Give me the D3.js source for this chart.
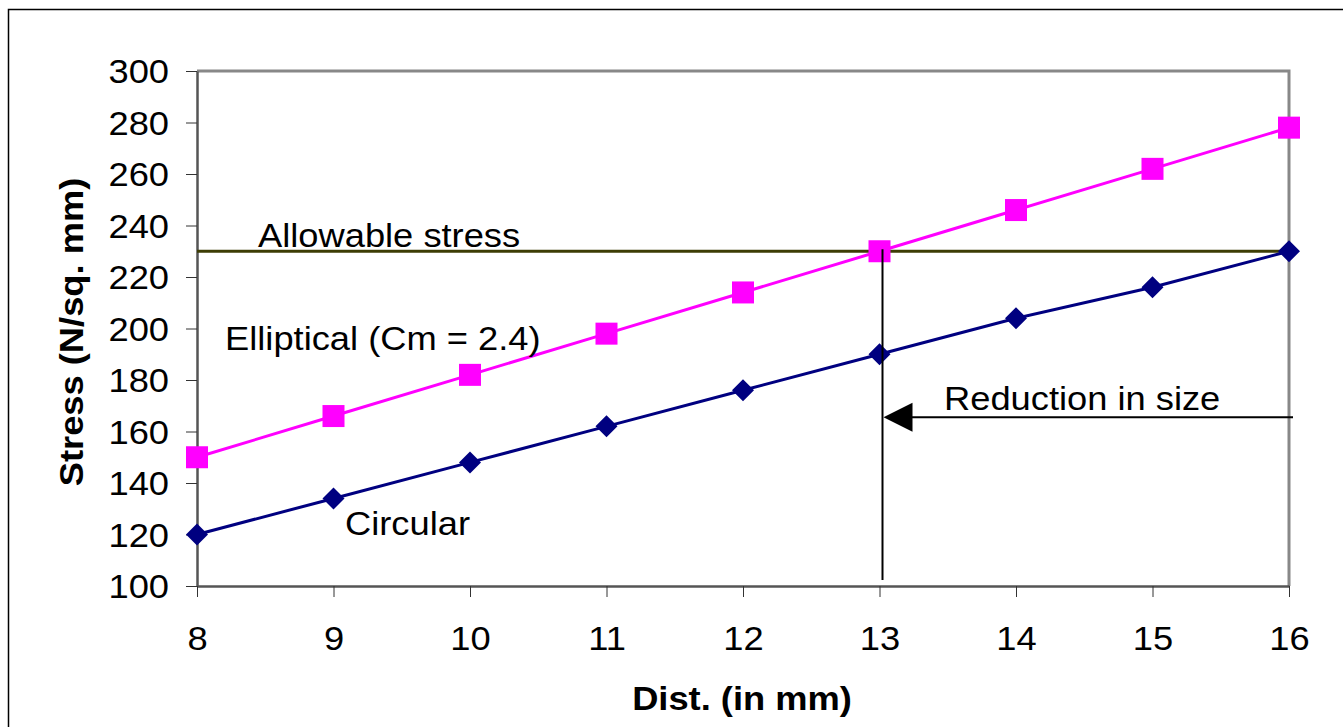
<!DOCTYPE html>
<html>
<head>
<meta charset="utf-8">
<script src="https://cdn.jsdelivr.net/npm/d3@7"></script>
<style>
  html, body { margin: 0; padding: 0; background: #fff; }
  svg { display: block; }
  text { font-family: "Liberation Sans", Arial, sans-serif; fill: #000; }
</style>
</head>
<body>
<svg id="chart" width="1343" height="727"></svg>
<script>
// ---- data ----
const distances = [8, 9, 10, 11, 12, 13, 14, 15, 16];
const circular = [120, 134, 148, 162, 176, 190, 204, 216, 230];
const elliptical = [150, 166, 182, 198, 214, 230, 246, 262, 278];
const allowableStress = 230;
const yTicks = [100, 120, 140, 160, 180, 200, 220, 240, 260, 280, 300];
const xTicks = [8, 9, 10, 11, 12, 13, 14, 15, 16];
const reductionAt = 13;
const arrowLevel = 165.5;

(function () {
// ---- layout ----
const svg = d3.select("#chart");
const pL = 197, pR = 1289, pT = 71, pB = 586;
const FS = 33, SX = 1.1;

const x = d3.scaleLinear().domain([8, 16]).range([pL, pR]);
const y = d3.scaleLinear().domain([100, 300]).range([pB, pT]);

// outer chart border
svg.append("rect").attr("x", 8.5).attr("y", 9.5).attr("width", 1400).attr("height", 800)
  .attr("fill", "none").attr("stroke", "#000").attr("stroke-width", 1.5);

// plot frame (top & right)
svg.append("path")
  .attr("d", `M${pL},${pT}H${pR}V${pB}`)
  .attr("fill", "none").attr("stroke", "#888").attr("stroke-width", 3);

// axes
const yAxis = svg.append("g").attr("transform", `translate(${pL},0)`)
  .call(d3.axisLeft(y).tickValues(yTicks).tickSize(11).tickSizeOuter(0));
const xAxis = svg.append("g").attr("transform", `translate(0,${pB})`)
  .call(d3.axisBottom(x).tickValues(xTicks).tickSize(11).tickSizeOuter(0).tickFormat(d3.format("d")));

[yAxis, xAxis].forEach(g => {
  g.select(".domain").attr("stroke", "#555").attr("stroke-width", 2.5);
  g.selectAll(".tick line").attr("stroke", "#333").attr("stroke-width", 1);
  g.selectAll("text").attr("font-size", FS).attr("fill", "#000")
    .style("font-family", '"Liberation Sans", Arial, sans-serif');
});
yAxis.selectAll("text").attr("x", -28 / SX).attr("dy", "0.36em").attr("transform", `scale(${SX},1)`);
xAxis.selectAll("text").attr("y", 64).attr("dy", 0).attr("transform", `scale(${SX},1)`);

// allowable stress line
svg.append("line")
  .attr("x1", pL).attr("x2", pR)
  .attr("y1", y(allowableStress)).attr("y2", y(allowableStress))
  .attr("stroke", "#3d3d05").attr("stroke-width", 3);

// series
const line = d3.line().x((d, i) => x(distances[i])).y(d => y(d));

svg.append("path").datum(elliptical).attr("d", line)
  .attr("fill", "none").attr("stroke", "#ff00ff").attr("stroke-width", 3);
svg.append("g").selectAll("rect").data(elliptical).join("rect")
  .attr("x", (d, i) => x(distances[i]) - 11).attr("y", d => y(d) - 11)
  .attr("width", 22).attr("height", 22).attr("fill", "#ff00ff");

svg.append("path").datum(circular).attr("d", line)
  .attr("fill", "none").attr("stroke", "#000080").attr("stroke-width", 3);
svg.append("g").selectAll("path").data(circular).join("path")
  .attr("d", (d, i) => {
    const cx = x(distances[i]), cy = y(d), r = 11;
    return `M${cx},${cy - r}L${cx + r},${cy}L${cx},${cy + r}L${cx - r},${cy}Z`;
  })
  .attr("fill", "#000080");

// annotations
const vx = x(reductionAt) + 3;
svg.append("line")
  .attr("x1", vx).attr("x2", vx)
  .attr("y1", y(allowableStress) - 2).attr("y2", pB - 6)
  .attr("stroke", "#000").attr("stroke-width", 2);

const ay = y(arrowLevel);
svg.append("line")
  .attr("x1", vx + 28).attr("x2", x(16) + 4)
  .attr("y1", ay).attr("y2", ay)
  .attr("stroke", "#000").attr("stroke-width", 2);
svg.append("path")
  .attr("d", `M${vx + 1},${ay}L${vx + 30},${ay - 14.5}L${vx + 30},${ay + 14.5}Z`)
  .attr("fill", "#000");

function label(txt, tx, ty, opts = {}) {
  const t = svg.append("text")
    .attr("transform", `translate(${tx},${ty})${opts.rotate ? ` rotate(${opts.rotate})` : ""} scale(${SX},1)`)
    .attr("font-size", opts.size || FS)
    .attr("text-anchor", opts.anchor || "start")
    .text(txt);
  if (opts.bold) t.attr("font-weight", "bold");
  return t;
}

label("Allowable stress", 258, 247);
label("Elliptical (Cm = 2.4)", 225, 350);
label("Circular", 345, 535);
label("Reduction in size", 944, 410);

label("Dist. (in mm)", 742, 710, { bold: true, anchor: "middle" });
label("Stress (N/sq. mm)", 83, 332, { bold: true, anchor: "middle", rotate: -90 });
})();
</script>
</body>
</html>
